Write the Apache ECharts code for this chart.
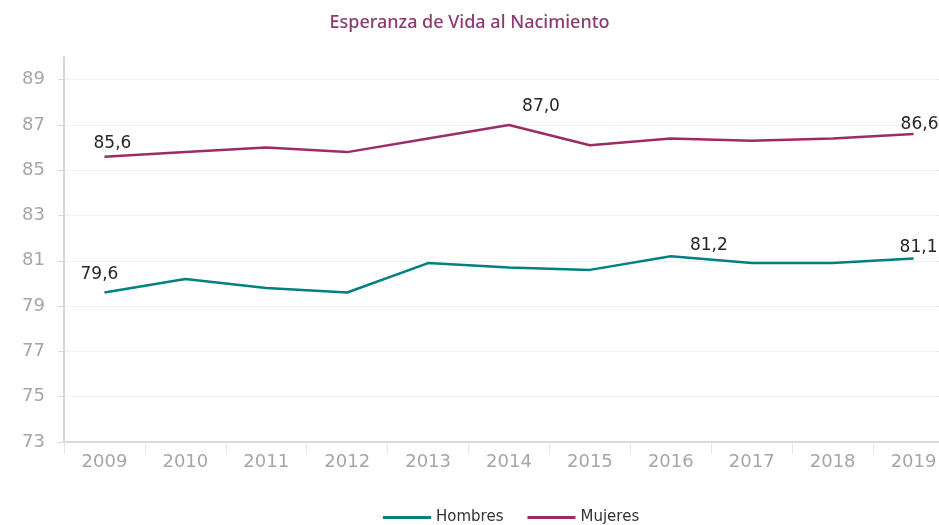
<!DOCTYPE html>
<html>
<head>
<meta charset="utf-8">
<script src="https://cdn.jsdelivr.net/npm/echarts@6/dist/echarts.min.js"></script>
<style>
    html, body { margin: 0; padding: 0; background: #fff; }
    #chart { width: 939px; height: 525px; }
</style>
</head>
<body>
<div id="chart"></div>
<script>
let years = ['2009', '2010', '2011', '2012', '2013', '2014', '2015', '2016', '2017', '2018', '2019']
let hombres = [79.6, 80.2, 79.8, 79.6, 80.9, 80.7, 80.6, 81.2, 80.9, 80.9, 81.1]
let mujeres = [85.6, 85.8, 86.0, 85.8, 86.4, 87.0, 86.1, 86.4, 86.3, 86.4, 86.6]
// which points get a value label, and how far to nudge it
let hombresLabels = {0: [-5, -4], 7: [38, 3], 10: [5, 3]}
let mujeresLabels = {0: [8, 0], 5: [32, -5], 10: [6, 4]}

function withLabels(values, labels) {
    return values.map(function (v, i) {
        if (labels[i] === undefined) {
            return v
        }
        return {
            value: v,
            label: {
                show: true,
                position: 'top',
                offset: labels[i],
                formatter: function (p) {
                    return p.value.toFixed(1).replace('.', ',')
                }
            }
        }
    })
}

let chart = echarts.init(document.getElementById('chart'))
let option = {
    animation: false,
    textStyle: {
        fontFamily: 'DejaVu Sans'
    },
    title: {
        text: 'Esperanza de Vida al Nacimiento',
        left: 'center',
        top: 9,
        textStyle: {
            color: '#8e3a6f',
            fontSize: 18,
            fontFamily: 'Noto Sans',
            fontWeight: 500
        }
    },
    legend: {
        left: 378,
        top: 505,
        itemWidth: 48,
        itemHeight: 3,
        itemGap: 24,
        icon: 'rect',
        textStyle: {
            color: '#333',
            fontSize: 15
        },
        data: ['Hombres', 'Mujeres']
    },
    grid: {
        left: 64,
        right: -15,
        top: 57,
        bottom: 83,
        outerBoundsMode: 'none'
    },
    xAxis: {
        type: 'category',
        data: years,
        boundaryGap: true,
        axisLine: {lineStyle: {color: '#d9d9d9', width: 2}},
        axisTick: {show: true, length: 12, inside: false, lineStyle: {color: '#e6e6e6'}},
        axisLabel: {color: '#a6a6a6', fontSize: 18, margin: 11}
    },
    yAxis: {
        type: 'value',
        min: 73,
        max: 90,
        interval: 2,
        axisLine: {show: true, lineStyle: {color: '#d9d9d9', width: 2}},
        axisTick: {show: true, length: 6, lineStyle: {color: '#d9d9d9'}},
        axisLabel: {color: '#a6a6a6', fontSize: 18, margin: 19, showMaxLabel: false},
        splitLine: {
            lineStyle: {
                color: ['#e3e3e3', '#e3e3e3', '#e3e3e3', '#e3e3e3', '#e3e3e3', '#e3e3e3', '#e3e3e3', '#e3e3e3', '#e3e3e3', 'rgba(0,0,0,0)'],
                type: 'dotted'
            }
        }
    },
    series: [{
        name: 'Hombres',
        type: 'line',
        data: withLabels(hombres, hombresLabels),
        symbol: 'circle',
        symbolSize: 0,
        showSymbol: true,
        color: '#00807f',
        lineStyle: {width: 2.5, color: '#00807f'},
        label: {color: '#262626', fontSize: 17}
    }, {
        name: 'Mujeres',
        type: 'line',
        data: withLabels(mujeres, mujeresLabels),
        symbol: 'circle',
        symbolSize: 0,
        showSymbol: true,
        color: '#9b2d64',
        lineStyle: {width: 2.5, color: '#9b2d64'},
        label: {color: '#262626', fontSize: 17}
    }]
}
chart.setOption(option)
</script>
</body>
</html>
